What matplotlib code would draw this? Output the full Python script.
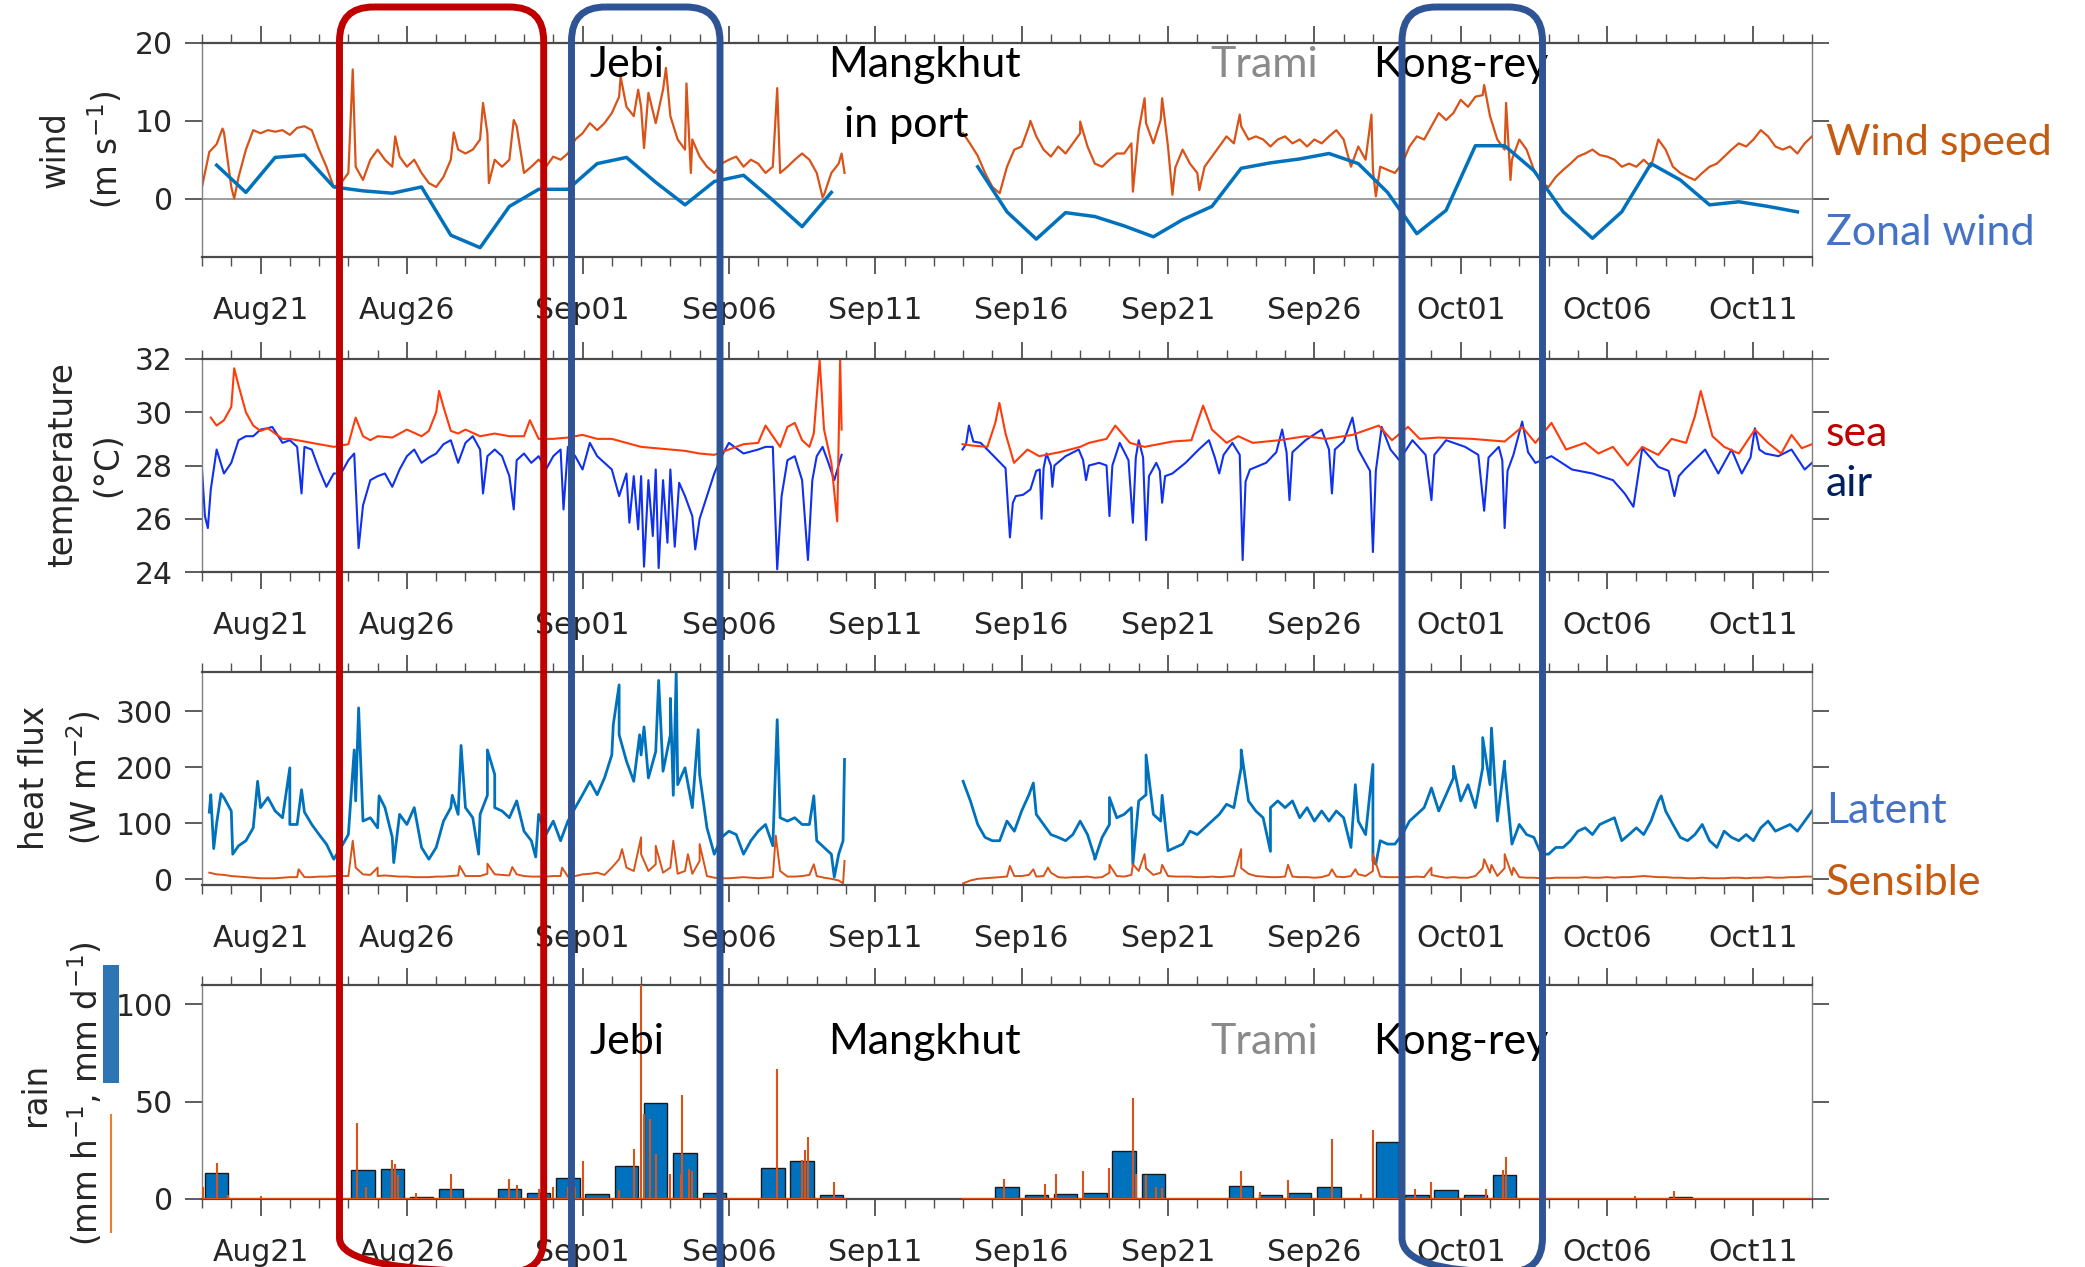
import datetime as dt
import numpy as np
import matplotlib
matplotlib.use("Agg")
import matplotlib.pyplot as plt
import matplotlib.dates as mdates
from matplotlib.patches import FancyBboxPatch, Rectangle
from matplotlib.lines import Line2D
from matplotlib.transforms import Affine2D

# ---------------- data (days after 2018-08-19 00:00) ----------------
start = mdates.date2num(dt.datetime(2018, 8, 19))

# wind speed, 6-hourly, two segments (ship in port in between)
wspd_1_start = 0.0
wspd_1 = [1.5, 6.0, 7.0, 8.5,  1.5, 2.8, 6.3, 8.8,  8.4, 8.8, 8.6, 8.8,  8.2, 9.1, 9.3, 8.8,
          6.3, 4.1, 1.5, 2.0,  3.3, 4.1, 2.4, 5.0,  6.3, 5.0, 4.1, 5.4,  4.1, 5.0, 3.3, 2.0,
          1.5, 2.8, 5.0, 6.3,  5.8, 6.3, 7.6, 8.4,  5.0, 4.1, 5.0, 9.3,  3.3, 4.1, 5.0, 4.1,
          5.4, 5.0, 5.8, 7.6,  8.4, 9.7, 8.8, 9.7,  11.0, 13.1, 11.8, 10.6,  11.8, 13.6, 9.7, 14.0,
          10.6, 7.6, 6.3, 7.6,  5.4, 4.1, 3.3, 4.5,  5.0, 5.4, 4.1, 5.0,  4.5, 3.3, 4.1, 3.3,
          4.1, 5.0, 5.8, 5.0,  3.3, 0.5, 3.3, 4.5]
wspd_2_start = 26.0
wspd_2 = [8.4, 7.0, 5.5, 3.3,  1.5, 0.7, 4.1, 6.3,  6.7, 9.3, 8.0, 6.3,  5.4, 6.7, 5.8, 7.1,
          8.4, 6.7, 4.5, 4.1,  5.0, 5.8, 5.8, 7.1,  8.8, 9.7, 7.1, 10.1,  6.7, 4.0, 6.3, 4.5,
          3.3, 4.1, 5.4, 6.7,  8.0, 7.1, 9.3, 7.6,  8.0, 7.6, 6.7, 7.6,  8.0, 7.1, 7.6, 6.7,
          7.6, 7.1, 8.0, 8.8,  7.6, 4.1, 6.7, 5.0,  3.7, 4.1, 3.7, 3.3,  4.5, 6.7, 8.0, 7.6,
          9.3, 11.0, 10.1, 11.0,  12.7, 11.8, 13.1, 13.3,  10.6, 7.6, 6.3, 5.0,  7.6, 6.3, 3.7, 2.0,
          1.5, 2.8, 3.7, 4.5,  5.4, 5.8, 6.3, 5.6,  5.4, 5.0, 4.1, 4.5,  4.1, 5.0, 4.1, 7.6,
          6.3, 4.1, 3.3, 2.8,  2.4, 3.3, 4.1, 4.5,  5.4, 6.3, 7.1, 6.7,  7.6, 8.8, 8.0, 6.7,
          6.3, 6.7, 5.8, 7.1,  8.0]
wspd_1_peaks = np.array([[0.7, 9.0], [1.1, 0.0], [5.15, 16.6], [6.6, 8.0], [8.6, 8.5], [9.6, 12.3],
                         [9.8, 2.0], [10.65, 10.1], [14.3, 15.7], [14.9, 14.0], [15.1, 6.5],
                         [15.85, 16.8], [16.55, 14.8], [16.7, 3.3], [19.65, 14.2], [21.2, 0.2],
                         [21.85, 5.8], [21.95, 3.3]])
wspd_2_peaks = np.array([[28.3, 10.0], [30.0, 9.9], [31.8, 0.9], [32.2, 12.9], [32.8, 12.9],
                         [33.15, 0.5], [34.07, 1.1], [35.45, 10.8], [39.95, 10.8], [40.1, 0.3],
                         [43.8, 14.6], [44.55, 12.3], [44.7, 2.4]])

# zonal wind, daily at noon
zonal_1_start = 0.5
zonal_1 = [4.3, 0.8, 5.3, 5.6, 1.5, 1.0, 0.7, 1.5, -4.7, -6.3, -1.0, 1.2, 1.2, 4.5, 5.3, 2.1,
           -0.8, 2.2, 3.0, -0.2, -3.6, 0.8]
zonal_2_start = 26.5
zonal_2 = [4.1, -1.7, -5.2, -1.8, -2.3, -3.5, -4.9, -2.7, -1.0, 3.9, 4.6, 5.1, 5.8, 4.5, 0.8,
           -4.5, -1.5, 6.8, 6.8, 3.6, -1.7, -5.1, -1.7, 4.5, 2.4, -0.8, -0.4, -1.0, -1.7]

# sea and air temperature (day, degC)
sea_1 = np.array([[0.3, 29.8], [0.5, 29.5], [0.75, 29.7], [1.0, 30.2], [1.1, 31.65], [1.25, 31.0],
                  [1.5, 30.0], [1.75, 29.5], [2.0, 29.3], [2.25, 29.4], [2.5, 29.2], [2.75, 29.0],
                  [3.0, 29.0], [3.25, 28.95], [3.5, 28.9], [3.75, 28.85], [4.0, 28.8], [4.5, 28.7],
                  [5.0, 28.8], [5.25, 29.8], [5.5, 29.1], [5.75, 28.95], [6.0, 29.1], [6.5, 29.05],
                  [7.0, 29.35], [7.5, 29.1], [7.75, 29.3], [8.0, 30.0], [8.1, 30.8], [8.25, 30.2],
                  [8.5, 29.3], [8.75, 29.2], [9.0, 29.35], [9.5, 29.1], [10.0, 29.2], [10.5, 29.1],
                  [11.0, 29.1], [11.2, 29.7], [11.5, 29.0], [12.0, 29.0], [12.5, 29.05], [13.0, 29.15],
                  [13.5, 29.0], [14.0, 29.0], [14.5, 28.85], [15.0, 28.7], [15.5, 28.65], [16.0, 28.6],
                  [16.5, 28.55], [17.0, 28.45], [17.5, 28.4], [18.0, 28.6], [18.5, 28.8], [19.0, 28.85],
                  [19.25, 29.5], [19.5, 29.1], [19.75, 28.7], [20.0, 29.45], [20.25, 29.6], [20.5, 28.95],
                  [20.75, 28.7], [20.9, 29.2], [21.0, 30.6], [21.1, 31.95], [21.25, 29.35], [21.5, 28.1],
                  [21.6, 27.0], [21.7, 25.9], [21.8, 32.0], [21.85, 29.35]])
sea_2 = np.array([[25.98, 28.8], [26.3, 28.75], [26.83, 28.7], [27.1, 29.6], [27.24, 30.35],
                  [27.45, 29.2], [27.74, 28.1], [28.2, 28.6], [28.6, 28.35], [29.3, 28.5], [30.0, 28.7],
                  [30.3, 28.85], [30.9, 29.0], [31.2, 29.5], [31.7, 28.85], [32.2, 28.7], [33.15, 28.9],
                  [33.8, 28.95], [34.2, 30.25], [34.5, 29.35], [35.0, 28.85], [35.4, 29.1], [35.9, 28.85],
                  [36.8, 28.95], [37.7, 29.1], [38.4, 29.0], [39.3, 29.15], [40.2, 29.5], [40.65, 28.95],
                  [41.2, 29.45], [41.6, 29.0], [42.25, 29.05], [43.4, 29.0], [44.5, 28.9], [45.1, 29.45],
                  [45.55, 28.85], [46.1, 29.6], [46.6, 28.6], [47.25, 28.85], [47.7, 28.45], [48.2, 28.7],
                  [48.7, 28.0], [49.2, 28.7], [49.75, 28.4], [50.2, 29.0], [50.7, 28.85], [51.0, 29.85],
                  [51.2, 30.8], [51.6, 29.1], [52.0, 28.7], [52.5, 28.45], [53.05, 29.35], [53.5, 28.85],
                  [53.95, 28.45], [54.3, 29.15], [54.65, 28.65], [55.0, 28.8]])
air_1 = np.array([[0.0, 27.85], [0.1, 26.1], [0.2, 25.65], [0.3, 27.1], [0.5, 28.6], [0.75, 27.7],
                  [1.0, 28.1], [1.25, 28.95], [1.5, 29.1], [1.75, 29.1], [2.0, 29.35], [2.25, 29.4],
                  [2.4, 29.45], [2.75, 28.85], [3.0, 28.95], [3.25, 28.7], [3.4, 26.95], [3.5, 28.7],
                  [3.75, 28.6], [4.0, 27.85], [4.25, 27.2], [4.5, 27.7], [4.75, 27.7], [5.0, 28.2],
                  [5.2, 28.45], [5.35, 24.9], [5.5, 26.5], [5.75, 27.45], [6.0, 27.6], [6.25, 27.7],
                  [6.5, 27.2], [6.75, 27.85], [7.0, 28.35], [7.25, 28.6], [7.5, 28.1], [7.75, 28.3],
                  [8.0, 28.45], [8.25, 28.8], [8.5, 28.95], [8.75, 28.1], [9.0, 28.85], [9.25, 29.1],
                  [9.5, 28.6], [9.6, 26.95], [9.75, 28.35], [10.0, 28.6], [10.25, 28.35], [10.5, 27.6],
                  [10.65, 26.35], [10.75, 28.2], [11.0, 28.45], [11.25, 28.1], [11.5, 28.35],
                  [11.75, 27.85], [12.0, 28.35], [12.25, 28.6], [12.35, 26.35], [12.5, 28.7],
                  [12.75, 28.35], [13.0, 27.85], [13.25, 28.85], [13.5, 28.35], [13.75, 28.1],
                  [14.0, 27.85], [14.25, 26.85], [14.5, 27.7], [14.6, 25.85], [14.75, 27.6],
                  [14.9, 25.6], [15.0, 27.6], [15.1, 24.2], [15.25, 27.45], [15.4, 25.35], [15.5, 27.85],
                  [15.6, 24.15], [15.75, 27.45], [15.9, 25.1], [16.0, 27.85], [16.15, 24.95],
                  [16.3, 27.35], [16.5, 26.85], [16.75, 26.1], [16.85, 24.85], [17.0, 26.0],
                  [17.25, 26.85], [17.5, 27.7], [17.75, 28.35], [18.0, 28.85], [18.5, 28.45],
                  [19.0, 28.6], [19.25, 28.7], [19.5, 28.7], [19.65, 24.1], [19.8, 26.85], [20.0, 28.2],
                  [20.25, 28.35], [20.5, 27.45], [20.7, 24.45], [20.85, 27.45], [21.0, 28.35],
                  [21.2, 28.7], [21.4, 28.1], [21.6, 27.45], [21.85, 28.4]])
air_2 = np.array([[25.98, 28.6], [26.1, 28.8], [26.2, 29.5], [26.35, 28.9], [26.6, 28.85],
                  [27.05, 28.35], [27.45, 27.9], [27.6, 25.3], [27.7, 26.6], [27.8, 26.85],
                  [28.05, 26.9], [28.3, 27.1], [28.5, 27.8], [28.62, 27.85], [28.68, 26.0],
                  [28.75, 27.9], [28.85, 28.45], [29.0, 28.0], [29.05, 27.2], [29.12, 28.0],
                  [29.5, 28.35], [29.95, 28.6], [30.1, 28.2], [30.2, 27.45], [30.3, 28.0],
                  [30.65, 28.1], [30.9, 28.0], [31.0, 26.1], [31.1, 28.0], [31.35, 28.85],
                  [31.65, 28.2], [31.8, 25.85], [31.9, 28.3], [32.0, 28.95], [32.15, 28.3],
                  [32.25, 25.2], [32.35, 27.6], [32.6, 28.1], [32.72, 27.8], [32.8, 26.6],
                  [32.9, 27.6], [33.15, 27.7], [33.6, 28.1], [34.05, 28.6], [34.4, 28.95],
                  [34.6, 28.3], [34.75, 27.7], [34.9, 28.4], [35.2, 28.85], [35.45, 28.4],
                  [35.55, 24.45], [35.65, 27.4], [35.8, 27.85], [36.35, 28.1], [36.7, 28.5],
                  [36.9, 29.35], [37.05, 28.5], [37.15, 26.7], [37.25, 28.5], [37.7, 28.95],
                  [38.25, 29.35], [38.5, 28.6], [38.6, 26.95], [38.7, 28.6], [39.0, 28.9],
                  [39.3, 29.8], [39.5, 28.6], [39.75, 28.1], [39.9, 27.8], [40.0, 24.75],
                  [40.1, 27.8], [40.3, 29.45], [40.6, 28.6], [40.9, 28.2], [41.35, 28.95],
                  [41.8, 28.4], [42.0, 26.7], [42.1, 28.4], [42.5, 28.95], [43.15, 28.7],
                  [43.6, 28.4], [43.8, 26.3], [43.95, 28.3], [44.3, 28.7], [44.42, 28.2],
                  [44.5, 25.65], [44.6, 27.8], [44.8, 28.4], [45.1, 29.65], [45.3, 28.5],
                  [45.55, 28.1], [46.1, 28.35], [46.8, 27.85], [47.5, 27.7], [48.2, 27.45],
                  [48.6, 26.95], [48.9, 26.45], [49.2, 28.65], [49.75, 27.95], [50.1, 27.8],
                  [50.3, 26.85], [50.45, 27.6], [50.65, 27.85], [51.35, 28.6], [51.8, 27.7],
                  [52.25, 28.6], [52.6, 27.7], [52.9, 28.3], [53.05, 29.4], [53.2, 28.6],
                  [53.4, 28.45], [53.85, 28.35], [54.3, 28.6], [54.75, 27.85], [55.0, 28.1]])

# latent and sensible heat flux, 6-hourly (W m-2)
lat_1_start = 0.25
lat_1 = [120, 100, 146,  122, 60, 69, 92,  128, 146, 122, 110,  98, 98, 120, 98,  80, 63, 36, 57,
         80, 140, 104, 110,  92, 128, 75, 116,  98, 128, 57, 36,  57, 104, 128, 116,
         128, 110, 116, 150,  128, 122, 110, 140,  86, 69, 116, 80,  104, 69, 104, 128,
         151, 175, 151, 181,  222, 258, 211, 175,  222, 181, 228, 193,  258, 169, 199, 128,
         187, 92, 45, 75,  86, 80, 45, 69,  86, 98, 60, 110,  104, 110, 98, 98,  69, 57, 45, 45]
lat_2_start = 26.0
lat_2 = [175, 140, 98, 75,  69, 69, 104, 86,  122, 151, 116, 98,  80, 75, 69, 80,  104, 80, 39, 75,
         98, 110, 116, 128,  140, 151, 116, 104,  51, 57, 63, 86,  80, 92, 104, 116,
         134, 128, 199, 140,  122, 110, 128, 140,  128, 140, 110, 128,  104, 122, 104, 122,
         110, 57, 104, 80,  33, 69, 63, 63,  80, 104, 116, 128,  163, 122, 151, 181,
         140, 169, 128, 199,  169, 104, 199, 63,  98, 80, 75, 45,  45, 57, 57, 69,
         86, 92, 80, 98,  104, 110, 69, 80,  92, 80, 104, 140,  122, 98, 75, 69,
         80, 98, 69, 57,  86, 75, 69, 80,  69, 92, 104, 86,  92, 98, 86, 104,  122]
lat_1_peaks = np.array([[0.3, 151], [0.4, 55], [0.65, 153], [1.05, 45], [1.9, 175], [3.0, 199],
                        [3.4, 160], [5.2, 231], [5.35, 306], [6.05, 149], [6.55, 30], [8.55, 150],
                        [8.85, 239], [9.45, 45], [9.75, 231], [10.0, 187], [11.4, 40], [14.05, 276],
                        [14.25, 347], [14.95, 258], [15.1, 272], [15.6, 355], [16.0, 323],
                        [16.1, 150], [16.2, 370], [16.95, 267], [19.65, 285], [20.9, 149],
                        [21.6, 4], [21.9, 69], [21.95, 214]])
lat_2_peaks = np.array([[28.4, 172], [30.5, 36], [31.0, 146], [31.8, 27], [32.25, 222], [32.8, 150],
                        [35.5, 231], [36.5, 50], [39.4, 169], [40.0, 205], [40.1, 27], [42.75, 202],
                        [43.75, 253], [44.05, 270], [44.5, 211], [49.85, 149]])
sen_1_start = 0.25
sen_1 = [12, 9, 8,  6, 5, 4, 3,  2, 2, 2, 3,  4, 4, 4, 4,  5, 5, 6, 6,  6, 21, 9, 8,  6, 7, 6, 5,
         5, 4, 4, 4,  5, 5, 6, 7,  6, 6, 6, 10,  9, 8, 7, 9,  6, 5, 5, 5,  6, 6, 5, 6,
         9, 10, 12, 8,  21, 36, 21, 15,  45, 15, 27, 12,  21, 10, 15, 10,  33, 6, 3, 2,
         2, 3, 4, 3,  2, 3, 4, 15,  5, 5, 6, 8,  6, 3, 1, -2]
sen_2_start = 26.0
sen_2 = [-7, -2, 1, 2,  3, 4, 5, 6,  6, 8, 5, 6,  12, 4, 3, 4,  4, 5, 3, 4,  12, 6, 5, 8,
         15, 20, 8, 12,  6, 5, 5, 5,  4, 4, 5, 4,  5, 6, 20, 10,  6, 5, 4, 4,  5, 5, 4, 4,
         3, 4, 8, 5,  4, 6, 9, 6,  15, 5, 4, 4,  4, 4, 5, 4,  8, 5, 3, 4,  3, 3, 6, 20,
         12, 6, 20, 8,  4, 3, 3, 2,  2, 3, 3, 3,  3, 4, 3, 3,  4, 3, 4, 4,  5, 6, 5, 4,
         4, 3, 3, 2,  2, 3, 2, 2,  2, 3, 3, 2,  3, 3, 4, 3,  3, 4, 4, 5,  5]
sen_1_peaks = np.array([[3.3, 18], [5.15, 69], [6.0, 21], [8.8, 24], [9.75, 28], [10.6, 22],
                        [12.3, 21], [14.35, 54], [15.0, 75], [15.5, 60], [16.1, 69], [16.6, 45],
                        [17.0, 63], [19.6, 78], [20.9, 27], [21.9, -7], [21.95, 33]])
sen_2_peaks = np.array([[27.6, 24], [28.4, 18], [28.9, 21], [31.0, 26], [31.8, 27], [32.2, 45],
                        [32.8, 26], [35.5, 54], [37.1, 26], [38.6, 18], [39.4, 18], [40.0, 45],
                        [42.0, 21], [43.8, 36], [44.05, 26], [44.5, 45], [44.8, 21]])

# rain: daily totals (mm/d) and hourly peaks (mm/h)
rain_day = [0, 5, 6, 7, 8, 10, 11, 12, 13, 14, 15, 16, 17, 19, 20, 21,
            27, 28, 29, 30, 31, 32, 35, 36, 37, 38, 40, 41, 42, 43, 44, 50]
rain_daily = [13.5, 14.7, 15.4, 1.0, 5.0, 5.0, 3.1, 11.0, 2.4, 17.0, 49.4, 23.8, 3.1, 16.0, 19.5, 1.9,
              6.2, 2.2, 2.4, 3.1, 24.5, 13.0, 6.7, 1.9, 3.3, 6.2, 29.3, 1.9, 4.5, 1.9, 12.2, 1.0]
rain_hourly = np.array([[0.05, 6.2], [0.5, 18.7], [0.9, 1.9], [2.0, 1.4], [5.3, 39.2], [5.6, 6.2],
                        [6.5, 20.2], [6.6, 18.2], [6.7, 12.2], [7.3, 3.3], [8.5, 13.0], [10.5, 10.1],
                        [10.75, 7.0], [11.5, 5.1], [12.0, 6.2], [12.5, 6.2], [12.75, 6.2], [13.0, 19.3],
                        [14.25, 4.8], [14.75, 25.9], [15.0, 110.0], [15.1, 43.5], [15.3, 41.3],
                        [15.5, 23.0], [16.0, 13.0], [16.35, 13.0], [16.4, 53.6], [16.65, 15.6],
                        [16.75, 14.4], [19.65, 66.6], [20.5, 19.9], [20.6, 25.0], [20.7, 31.8],
                        [21.6, 8.7], [27.4, 10.1], [28.8, 7.9], [29.17, 13.0], [30.1, 14.4],
                        [31.0, 16.1], [31.8, 51.9], [31.9, 13.0], [32.25, 12.2], [32.6, 6.2],
                        [32.8, 5.7], [35.5, 14.2], [36.15, 3.6], [37.1, 9.9], [38.6, 31.0],
                        [39.6, 2.7], [40.0, 35.3], [41.45, 5.0], [42.0, 8.7], [43.85, 5.3],
                        [44.45, 14.7], [44.55, 21.6], [48.95, 1.4], [50.3, 3.9]])
rain_cover = [(0.0, 21.95), (26.0, 55.0)]

# ---------------- helpers ----------------
def series(s0, vals, peaks=None):
    d = s0 + 0.25 * np.arange(len(vals))
    v = np.asarray(vals, float)
    if peaks is not None:
        d = np.concatenate([d, peaks[:, 0]])
        v = np.concatenate([v, peaks[:, 1]])
    o = np.argsort(d)
    return start + d[o], v[o]


W, H = 2085, 1267
plt.rcParams['font.family'] = ['DejaVu Sans']
plt.rcParams['mathtext.default'] = 'regular'
fig = plt.figure(figsize=(W / 100, H / 100), dpi=100)
pix = Affine2D().scale(1, -1).translate(0, H)   # pixel coords, origin top-left

C_BLUE, C_ORANGE = '#0072BD', '#D95319'
TICK = '#262626'


def make_ax(top, bottom):
    return fig.add_axes([202 / W, 1 - bottom / H, 1610 / W, (bottom - top) / H])


def frame(ax, yticks, ylim):
    ax.set_xlim(start, start + 55)
    ax.set_ylim(*ylim)
    ax.set_yticks(yticks)
    ax.xaxis.set_major_locator(mdates.DayLocator(bymonthday=[1, 6, 11, 16, 21, 26]))
    ax.xaxis.set_minor_locator(mdates.DayLocator())
    ax.xaxis.set_major_formatter(mdates.DateFormatter('%b%d'))
    ax.tick_params(which='both', direction='out', top=True, right=True, color='#505050')
    ax.tick_params(which='major', length=12, width=1.3)
    ax.tick_params(which='minor', length=6.5, width=1.0)
    ax.tick_params(axis='x', which='major', pad=16, labelsize=21.5, labelcolor=TICK)
    ax.tick_params(axis='y', which='major', pad=9, labelsize=21.5, labelcolor=TICK)
    for s in ('top', 'bottom'):
        ax.spines[s].set_color('#4a4a4a')
        ax.spines[s].set_linewidth(1.6)
    for s in ('left', 'right'):
        ax.spines[s].set_color('#808080')
        ax.spines[s].set_linewidth(1.0)


# ---- wind ----
ax1 = make_ax(43, 257)
for s0, vals, pk in [(wspd_1_start, wspd_1, wspd_1_peaks), (wspd_2_start, wspd_2, wspd_2_peaks)]:
    t, v = series(s0, vals, pk)
    ax1.plot(t, v, color=C_ORANGE, lw=1.6)
for s0, vals in [(zonal_1_start, zonal_1), (zonal_2_start, zonal_2)]:
    ax1.plot(start + s0 + np.arange(len(vals)), vals, color=C_BLUE, lw=2.5)
ax1.axhline(0, color='#8c8c8c', lw=1.2, zorder=0)
frame(ax1, [0, 10, 20], (-7.5, 20))

# ---- temperature ----
ax2 = make_ax(359, 572)
for a in (air_1, air_2):
    ax2.plot(start + a[:, 0], a[:, 1], color='#1030F0', lw=1.5)
for s in (sea_1, sea_2):
    ax2.plot(start + s[:, 0], s[:, 1], color='#FF3B0A', lw=1.5)
frame(ax2, [24, 26, 28, 30, 32], (24, 32))

# ---- heat flux ----
ax3 = make_ax(672, 885)
for s0, vals, pk in [(lat_1_start, lat_1, lat_1_peaks), (lat_2_start, lat_2, lat_2_peaks)]:
    t, v = series(s0, vals, pk)
    ax3.plot(t, v, color=C_BLUE, lw=2.0)
for s0, vals, pk in [(sen_1_start, sen_1, sen_1_peaks), (sen_2_start, sen_2, sen_2_peaks)]:
    t, v = series(s0, vals, pk)
    ax3.plot(t, v, color=C_ORANGE, lw=1.4)
frame(ax3, [0, 100, 200, 300], (-10, 370))

# ---- rain ----
ax4 = make_ax(985, 1199)
ax4.bar(start + np.asarray(rain_day) + 0.5, rain_daily, width=0.8, color=C_BLUE,
        edgecolor='#1a1a1a', linewidth=1.0, zorder=2)
for a, b in rain_cover:
    ax4.plot([start + a, start + b], [0, 0], color=C_ORANGE, lw=1.6, zorder=3)
ax4.vlines(start + rain_hourly[:, 0], 0, rain_hourly[:, 1], color=C_ORANGE, lw=1.5, zorder=3)
frame(ax4, [0, 50, 100], (0, 110))

# ---- y labels ----
ylabels = [("wind\n(m s$^{-1}$)", 82, 150),
           ("temperature\n(°C)", 85, 465),
           ("heat flux\n(W m$^{-2}$)", 61, 778),
           ("rain\n(mm h$^{-1}$, mm d$^{-1}$)", 62, 1094)]
for s, x, y in ylabels:
    fig.text(x, y, s, transform=pix, rotation=90, ha='center', va='center',
             multialignment='center', fontsize=23.5, color=TICK, linespacing=1.45)
fig.add_artist(Rectangle((103, 965), 16, 118, transform=pix, color='#2E75B6', lw=0))
fig.add_artist(Line2D([111, 111], [1115, 1232], transform=pix, color='#ED7D31', lw=1.5))

# ---- storm names ----
ann = dict(fontsize=31, family='Lato', va='baseline', ha='left', transform=pix, clip_on=False)
for ax, yb in [(ax1, 77), (ax4, 1054)]:
    ax.text(590, yb, "Jebi", color='black', **ann)
    ax.text(828, yb, "Mangkhut", color='black', **ann)
    ax.text(1210, yb, "Trami", color='#8a8a8a', **ann)
    ax.text(1373, yb, "Kong-rey", color='black', **ann)
ax1.text(844, 137, "in port", color='black', **ann)

# ---- right-hand series labels ----
rl = dict(fontsize=31, family='Lato', va='baseline', ha='left', transform=pix)
fig.text(1826, 155, "Wind speed", color='#C55A11', **rl)
fig.text(1826, 245, "Zonal wind", color='#4472C4', **rl)
fig.text(1826, 446, "sea", color='#C00000', **rl)
fig.text(1826, 496, "air", color='#002060', **rl)
fig.text(1826, 823, "Latent", color='#4472C4', **rl)
fig.text(1826, 895, "Sensible", color='#C55A11', **rl)

# ---- storm windows ----
boxes = [(339.5, 543.7, 1272, '#C00000'), (571.5, 720.0, 1300, '#2F5496'),
         (1402.0, 1542.5, 1272, '#2F5496')]
for x0, x1, yb, col in boxes:
    fig.add_artist(FancyBboxPatch((x0, 7), x1 - x0, yb - 7, transform=pix,
                                  boxstyle="round,pad=0,rounding_size=34",
                                  fill=False, ec=col, lw=5.0))

fig.savefig("out.png", dpi=100)
